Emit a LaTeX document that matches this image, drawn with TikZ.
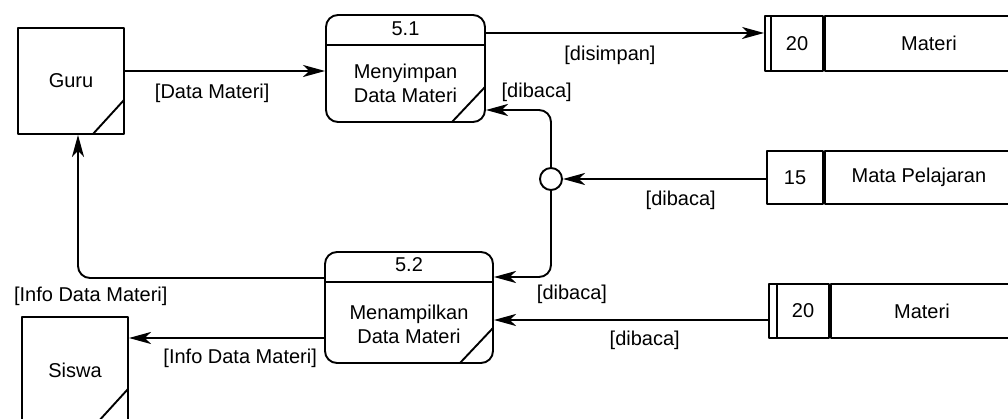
\documentclass[tikz,border=0pt]{standalone}
\usepackage{fontspec}
\setmainfont{Liberation Sans}
\usetikzlibrary{arrows.meta,positioning}

\tikzset{
  entity/.style={draw,minimum width=106pt,minimum height=106pt,inner sep=0pt,
    path picture={\draw ([yshift=34pt]path picture bounding box.south east) -- ([xshift=-31pt]path picture bounding box.south east);}},
  process/.style={draw,rounded corners=12pt,inner sep=0pt,
    path picture={
      \draw ([yshift=-30pt]path picture bounding box.north west) -- ([yshift=-30pt]path picture bounding box.north east);
      \draw ([yshift=35pt]path picture bounding box.south east) -- ([xshift=-33pt]path picture bounding box.south east);}},
  storeid/.style={draw,inner sep=0pt},
  dblstore/.style={storeid,
    path picture={\draw ([xshift=#1]path picture bounding box.north west) -- ([xshift=#1]path picture bounding box.south west);}},
  storename/.style={draw,inner sep=0pt},
  junction/.style={circle,draw,fill=white,minimum size=22pt,inner sep=0pt},
  lbl/.style={inner sep=1pt}
}

\begin{document}
\begin{tikzpicture}[x=1pt,y=1pt,line width=1.9pt,line cap=round,line join=round,
  >={Stealth[length=22pt,width=12pt,inset=6pt]},
  every node/.style={inner sep=1pt,font=\fontsize{20}{24}\selectfont}]
  \clip (0,0) rectangle (1008,419);

  \node[entity] (guru) at (71,338) {Guru};
  \node[entity] (siswa) at (75,49) {Siswa};

  \node[process,minimum width=159pt,minimum height=107pt] (p51) at (405.5,350.5) {};
  \node (p51id) at ([yshift=-15pt]p51.north) {5.1};
  \node[align=center] (p51txt) at ([yshift=-15pt]p51.center) {Menyimpan\\Data Materi};

  \node[process,minimum width=168pt,minimum height=111pt] (p52) at (409,111.5) {};
  \node (p52id) at ([yshift=-14pt]p52.north) {5.2};
  \node[align=center] (p52txt) at ([yshift=-17pt]p52.center) {Menampilkan\\Data Materi};

  \node[dblstore=6pt,minimum width=58pt,minimum height=55pt] (sA) at (794,375.5) {\hspace*{6pt}20};
  \node[storename,minimum width=208pt,minimum height=55pt,right=0pt of sA] (sAname) {Materi};
  \node[storeid,minimum width=56pt,minimum height=53pt] (sB) at (795,241.5) {15};
  \node[storename,minimum width=188pt,minimum height=53pt,right=0pt of sB] (sBname) {Mata Pelajaran};
  \node[dblstore=8pt,minimum width=60pt,minimum height=54pt] (sC) at (799,108) {\hspace*{8pt}20};
  \node[storename,minimum width=182pt,minimum height=54pt,right=0pt of sC] (sCname) {Materi};

  \node[junction] (jn) at (551,240) {};

  \draw[->] ([yshift=10pt]guru.east) -- ([yshift=10pt]guru.east -| p51.west)
    node[lbl,pos=0.436,yshift=-22pt] (l1) {[Data Materi]};
  \draw[->] ([yshift=10.5pt]sA.west -| p51.east) -- ([yshift=10.5pt]sA.west)
    node[lbl,pos=0.446,yshift=-22pt] (l2) {[disimpan]};
  \draw[->] (sB.west |- jn.east) -- (jn.east)
    node[lbl,pos=0.42,yshift=-21pt] (l3) {[dibaca]};
  \draw[->,rounded corners=12pt] (jn.north) |- ([yshift=-41.5pt]p51.east)
    node[lbl,pos=0.61,yshift=18pt] (l4) {[dibaca]};
  \draw[->,rounded corners=12pt] (jn.south) |- ([yshift=30.5pt]p52.east)
    node[lbl,pos=0.5,xshift=21pt,yshift=-17pt] (l5) {[dibaca]};
  \draw[->] ([yshift=-9pt]sC.west) -- ([yshift=-9pt]sC.west -| p52.east)
    node[lbl,pos=0.45,yshift=-20pt] (l6) {[dibaca]};
  \draw[->,rounded corners=12pt] ([yshift=29.5pt]p52.west) -| ([xshift=7pt]guru.south)
    node[lbl,pos=0.474,yshift=-18pt] (l7) {[Info Data Materi]};
  \draw[->] ([yshift=-30.5pt]p52.west) -- ([yshift=-30.5pt]p52.west -| siswa.east)
    node[lbl,pos=0.43,yshift=-20pt] (l8) {[Info Data Materi]};
\end{tikzpicture}
\end{document}
